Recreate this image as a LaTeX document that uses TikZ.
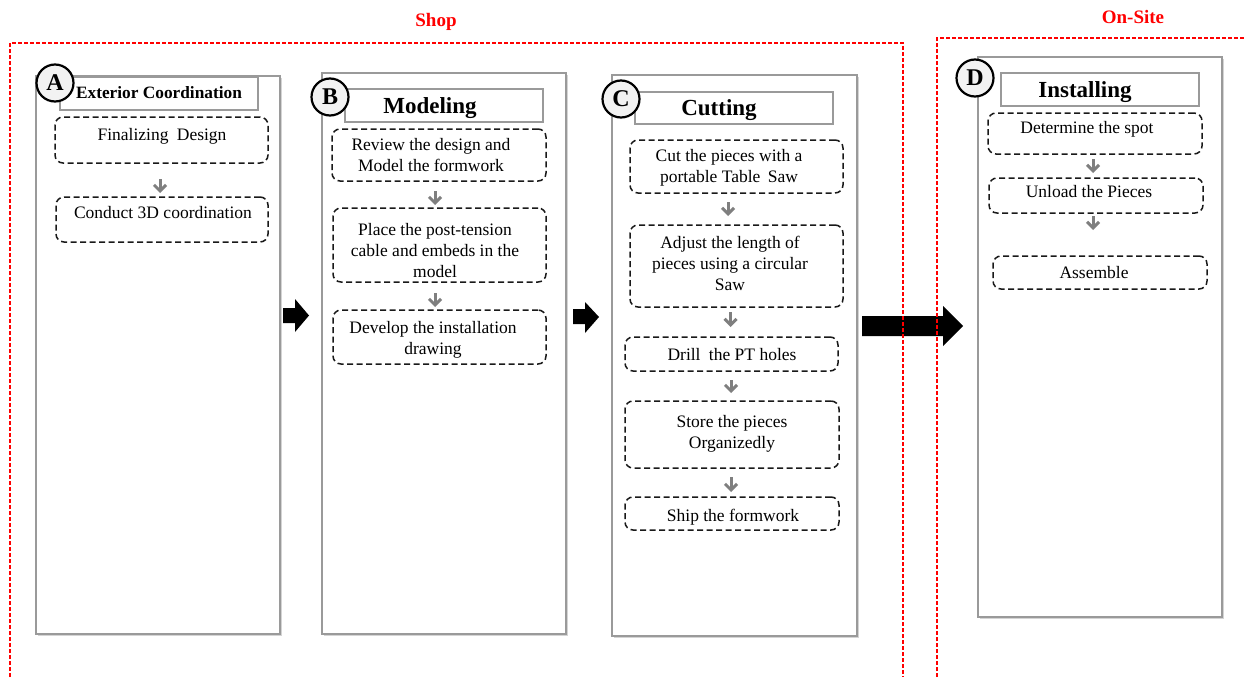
\documentclass[tikz,border=0pt]{standalone}
\usepackage{fontspec}
\setmainfont{Liberation Serif}
\usetikzlibrary{arrows.meta,calc}
\definecolor{panelgray}{HTML}{9A9A9A}
\definecolor{shadowgray}{HTML}{D4D4D4}
\definecolor{flowgray}{HTML}{7F7F7F}
\definecolor{zonered}{HTML}{FF0000}
\definecolor{badgefill}{HTML}{F2F2F2}
\begin{document}
\begin{tikzpicture}[x=1pt,y=-1pt,
  panel/.style={draw=panelgray,line width=1.3pt,fill=white,inner sep=0pt,outer sep=0pt},
  shadowbox/.style={fill=shadowgray,draw=none,inner sep=0pt,outer sep=0pt},
  titlebox/.style={draw=panelgray,line width=1.3pt,fill=white,inner sep=0pt,outer sep=0pt},
  titletext/.style={font=\fontsize{23}{27}\selectfont\bfseries,inner sep=0pt,anchor=base},
  badge/.style={circle,draw=black,line width=2.2pt,fill=badgefill,minimum size=37pt,inner sep=0pt,
    font=\fontsize{24}{28}\selectfont\bfseries},
  stepbox/.style={draw=black!90,line width=1.5pt,dash pattern=on 6pt off 3.5pt,rounded corners=8pt,
    inner sep=0pt,outer sep=0pt},
  steptext/.style={font=\fontsize{17.5}{21}\selectfont,align=center,inner sep=0pt,anchor=north},
  flow/.style={draw=flowgray,line width=3pt,-{Straight Barb[length=6pt,width=12pt,line width=3pt]}},
  zone/.style={draw=zonered,line width=1.1pt,dash pattern=on 4pt off 2pt},
  zonelabel/.style={font=\fontsize{19}{23}\selectfont\bfseries,text=zonered,inner sep=0pt,anchor=base},
  blockarrow/.style={fill=black,draw=none}
]
\useasboundingbox (0,0) rectangle (1246,677);

% block arrows between the stages
\fill[blockarrow] (283,308) -- (295,308) -- (295,299) -- (309,315.5) -- (295,332) -- (295,323) -- (283,323) -- cycle;
\fill[blockarrow] (573,309) -- (585,309) -- (585,302) -- (599,317) -- (585,333) -- (585,324) -- (573,324) -- cycle;
\fill[blockarrow] (862,316) -- (943,316) -- (943,306) -- (963,326) -- (943,346) -- (943,336) -- (862,336) -- cycle;

% shop and on-site zones (open at the bottom)
\node[zonelabel] (shoplbl) at (436,27) {Shop};
\node[zonelabel] (sitelbl) at (1133,24) {On-Site};
\draw[zone] (10,677) -- (10,43) -- (903,43) -- (903,677);
\draw[zone] (937,677) -- (937,38) -- (1246,38);

% stage panels with a soft shadow
\foreach \cx/\cy/\w/\h/\nm in {158/355/244/558/pA, 444/353.5/244/561/pB, 734.5/355.5/245/561/pC, 1100/337/244/560/pD}{
  \node[shadowbox,minimum width=\w pt,minimum height=\h pt] at (\cx+1.5,\cy+2) {};
  \node[panel,minimum width=\w pt,minimum height=\h pt] (\nm) at (\cx,\cy) {};
}

% stage titles
\node[titlebox,minimum width=198pt,minimum height=33pt] (tA) at (159,93.5) {};
\node[titlebox,minimum width=198pt,minimum height=33pt] (tB) at (444,105.5) {};
\node[titlebox,minimum width=198pt,minimum height=32pt] (tC) at (734,108) {};
\node[titlebox,minimum width=198pt,minimum height=33pt] (tD) at (1100,89.5) {};
\node[titletext,font=\fontsize{17.3}{21}\selectfont\bfseries] (ttA) at (159,98) {Exterior Coordination};
\node[titletext] (ttB) at (430,113) {Modeling};
\node[titletext] (ttC) at (719,115) {Cutting};
\node[titletext] (ttD) at (1085,97) {Installing};

% stage badges
\node[badge] (bA) at (55,83) {A};
\node[badge] (bB) at (330,97) {B};
\node[badge] (bC) at (621,99) {C};
\node[badge] (bD) at (975,78) {D};

% step boxes
\node[stepbox,minimum width=213pt,minimum height=46pt] (a1) at (161.5,140) {};
\node[stepbox,minimum width=212pt,minimum height=45pt] (a2) at (162,219.5) {};
\node[stepbox,minimum width=214pt,minimum height=52pt] (b1) at (439,155) {};
\node[stepbox,minimum width=213pt,minimum height=74pt] (b2) at (439.5,245) {};
\node[stepbox,minimum width=213pt,minimum height=54pt] (b3) at (439.5,337) {};
\node[stepbox,minimum width=213pt,minimum height=53pt] (c1) at (736.5,166.5) {};
\node[stepbox,minimum width=213pt,minimum height=82pt] (c2) at (736.5,266) {};
\node[stepbox,minimum width=213pt,minimum height=34pt] (c3) at (731.5,354) {};
\node[stepbox,minimum width=214pt,minimum height=67pt] (c4) at (732,434.5) {};
\node[stepbox,minimum width=214pt,minimum height=33pt] (c5) at (732,513.5) {};
\node[stepbox,minimum width=214pt,minimum height=41pt] (d1) at (1095,133.5) {};
\node[stepbox,minimum width=214pt,minimum height=35pt] (d2) at (1096,195.5) {};
\node[stepbox,minimum width=214pt,minimum height=33pt] (d3) at (1100,272.5) {};

% step texts (placed by the top of the first line)
\node[steptext] (a1t) at (162,128) {Finalizing\hspace{4pt} Design};
\node[steptext] (a2t) at (163,206) {Conduct 3D coordination};
\node[steptext] (b1t) at (431,138) {Review the design and\\Model the formwork};
\node[steptext] (b2t) at (435,223) {Place the post-tension\\cable and embeds in the\\model};
\node[steptext] (b3t) at (433,321) {Develop the installation\\drawing};
\node[steptext] (c1t) at (729,149) {Cut the pieces with a\\portable Table\hspace{3pt} Saw};
\node[steptext] (c2t) at (730,236) {Adjust the length of\\pieces using a circular\\Saw};
\node[steptext] (c3t) at (732,348) {Drill\hspace{4pt} the PT holes};
\node[steptext] (c4t) at (732,415) {Store the pieces\\Organizedly};
\node[steptext] (c5t) at (733,509) {Ship the formwork};
\node[steptext] (d1t) at (1087,121) {Determine the spot};
\node[steptext] (d2t) at (1089,185) {Unload the Pieces};
\node[steptext] (d3t) at (1094,266) {Assemble};

% flow arrows between steps
\draw[flow,shorten <=16pt,shorten >=4pt] ([xshift=-1.5pt]a1.south) -- ([xshift=-1.5pt]a1.south |- a2.north);
\draw[flow,shorten <=10pt,shorten >=3pt] ([xshift=-4pt]b1.south) -- ([xshift=-4pt]b1.south |- b2.north);
\draw[flow,shorten <=11pt,shorten >=3pt] ([xshift=-4.5pt]b2.south) -- ([xshift=-4.5pt]b2.south |- b3.north);
\draw[flow,shorten <=9pt,shorten >=9pt] ([xshift=-8.5pt]c1.south) -- ([xshift=-8.5pt]c1.south |- c2.north);
\draw[flow,shorten <=5pt,shorten >=10pt] ([xshift=-6pt]c2.south) -- ([xshift=-6pt]c2.south |- c3.north);
\draw[flow,shorten <=9pt,shorten >=8pt] ([xshift=-0.5pt]c3.south) -- ([xshift=-0.5pt]c3.south |- c4.north);
\draw[flow,shorten <=9pt,shorten >=5pt] ([xshift=-1pt]c4.south) -- ([xshift=-1pt]c4.south |- c5.north);
\draw[flow,shorten <=5pt,shorten >=5pt] ([xshift=-2pt]d1.south) -- ([xshift=-2pt]d1.south |- d2.north);
\draw[flow,shorten <=3pt,shorten >=26pt] ([xshift=-3pt]d2.south) -- ([xshift=-3pt]d2.south |- d3.north);
\end{tikzpicture}
\end{document}
